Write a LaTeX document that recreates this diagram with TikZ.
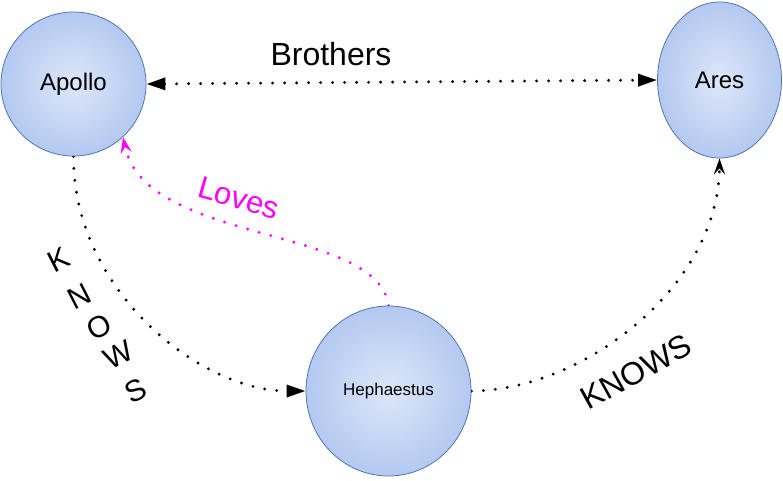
\documentclass[tikz,border=0pt]{standalone}
\usepackage{fontspec}
\setmainfont{Liberation Sans}
\usetikzlibrary{arrows.meta,shapes.geometric,backgrounds}
\definecolor{ballin}{HTML}{DDE7F9}
\definecolor{ballout}{HTML}{8AABE8}
\definecolor{balledge}{HTML}{4F76B0}
\definecolor{lovecol}{HTML}{FF00FF}
\pgfdeclareradialshading{ball}{\pgfpoint{0bp}{0bp}}{color(0bp)=(ballin); color(50bp)=(ballout)}
\begin{document}
\begin{tikzpicture}[x=1pt,y=-1pt,
  god/.style={ellipse, draw=balledge, line width=0.8pt, shading=ball, inner sep=0pt,
    font=\fontsize{24}{28}\selectfont},
  dotline/.style={line width=3.2pt, line cap=round, dash pattern=on 0pt off 12pt},
  bigtip/.style={font=\fontsize{32}{36}\selectfont, inner sep=1pt},
  letter/.style={font=\fontsize{30}{34}\selectfont, rotate=27, inner sep=0pt}
]
\useasboundingbox (0,0) rectangle (783,480);

\node[god, minimum width=145pt, minimum height=144pt] (apollo) at (73.5,84) {\raisebox{-2pt}{Apollo}};
\node[god, minimum width=124pt, minimum height=156pt] (ares) at (719.5,80) {\raisebox{-3pt}{Ares}};
\node[god, minimum width=165pt, minimum height=170pt, font=\fontsize{17}{20}\selectfont] (heph) at (388.5,391) {Hephaestus};

\begin{scope}[on background layer]
\draw[dotline, {Triangle[length=19pt,width=12pt]}-{Triangle[length=19pt,width=12pt]}]
  (apollo.east) -- (ares.west);
\draw[dotline, -{Triangle[length=19pt,width=12pt]}]
  (apollo.south) .. controls (73,290) and (200,391) .. (heph.west);
\draw[dotline, lovecol, -{Stealth[length=16pt,width=11pt,inset=6pt]}]
  (heph.north) .. controls (378,225) and (145,245) .. (apollo.-47);
\draw[dotline, -{Stealth[length=16pt,width=11pt,inset=6pt]}]
  (heph.east) .. controls (585,390) and (719,285) .. (ares.south);
\end{scope}

\node[bigtip] (brothers) at (331,54) {Brothers};
\node[bigtip, lovecol, rotate=-16, font=\fontsize{31}{34}\selectfont] (loves) at (239,198) {Loves};
\node[bigtip, rotate=29, font=\fontsize{32}{36}\selectfont] (knowsr) at (636,372) {KNOWS};

\node[letter] (k1) at (59,260) {K};
\node[letter] (k2) at (79,296) {N};
\node[letter] (k3) at (99,327) {O};
\node[letter] (k4) at (118,355) {W};
\node[letter] (k5) at (136,391) {S};
\end{tikzpicture}
\end{document}
